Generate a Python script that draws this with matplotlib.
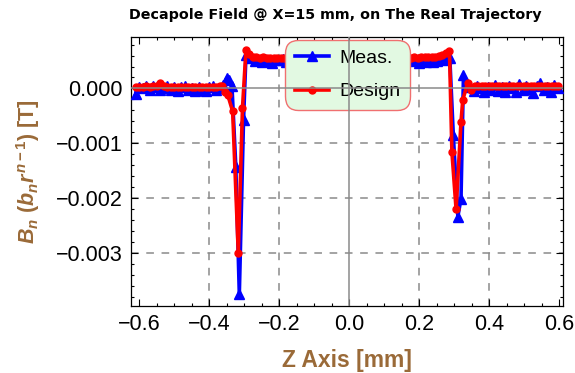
import matplotlib
matplotlib.use("Agg")
import matplotlib.pyplot as plt
from matplotlib.ticker import MultipleLocator, FuncFormatter, FixedLocator

plt.rcParams["font.family"] = ["Liberation Sans", "DejaVu Sans"]
plt.rcParams["mathtext.fontset"] = "custom"
plt.rcParams["mathtext.rm"] = "Liberation Sans:bold"
plt.rcParams["mathtext.it"] = "Liberation Sans:bold:italic"
plt.rcParams["mathtext.bf"] = "Liberation Sans:bold"

# Measured decapole component along the trajectory (z in mm, B in T)
z_meas = [
    -0.61, -0.60, -0.59, -0.58, -0.57, -0.56, -0.55, -0.54, -0.53, -0.52,
    -0.51, -0.50, -0.49, -0.48, -0.47, -0.46, -0.45, -0.44, -0.43, -0.42,
    -0.41, -0.40, -0.39, -0.38, -0.37, -0.36, -0.35, -0.343, -0.335, -0.324,
    -0.314, -0.302, -0.295,
    -0.28, -0.27, -0.26, -0.25, -0.24, -0.23, -0.22, -0.21, -0.20, -0.19,
    -0.18, -0.17, -0.16, -0.15, -0.14, -0.13, -0.12, -0.11, -0.10, -0.09,
    -0.08, -0.07, -0.06, -0.05, -0.04, -0.03, -0.02, -0.01, 0.00, 0.01,
    0.02, 0.03, 0.04, 0.05, 0.06, 0.07, 0.08, 0.09, 0.10, 0.11,
    0.12, 0.13, 0.14, 0.15, 0.16, 0.17, 0.18, 0.19, 0.20, 0.21,
    0.22, 0.23, 0.24, 0.25, 0.26, 0.27, 0.28, 0.287,
    0.297, 0.310, 0.319, 0.326, 0.335,
    0.345, 0.355, 0.365, 0.375, 0.385, 0.395, 0.405, 0.415, 0.425, 0.435,
    0.445, 0.455, 0.465, 0.475, 0.485, 0.495, 0.505, 0.515, 0.525, 0.535,
    0.545, 0.555, 0.565, 0.575, 0.585, 0.595,
]
b_meas = [
    -0.00011, 0.00003, 0.00001, 0.00004, -0.00002, 0.00005, 0.00002, -0.00003, 0.00001, 0.00004,
    -0.00002, 0.00003, -0.00004, 0.00002, 0.00005, -0.00003, 0.00001, -0.00005, 0.00003, -0.00002,
    -0.00004, 0.00002, 0.00004, -0.00003, 0.00001, 0.00006, 0.00019, 0.00015, 0.00004, -0.00143,
    -0.00376, -0.00058, 0.00061,
    0.00055, 0.00050, 0.00052, 0.00049, 0.00053, 0.00050, 0.00047, 0.00052, 0.00051, 0.00054,
    0.00049, 0.00046, 0.00051, 0.00053, 0.00049, 0.00052, 0.00050, 0.00047, 0.00051, 0.00053,
    0.00050, 0.00048, 0.00052, 0.00050, 0.00053, 0.00049, 0.00051, 0.00048, 0.00052, 0.00050,
    0.00053, 0.00049, 0.00051, 0.00047, 0.00052, 0.00050, 0.00054, 0.00049, 0.00051, 0.00048,
    0.00052, 0.00050, 0.00047, 0.00053, 0.00049, 0.00051, 0.00050, 0.00052, 0.00046, 0.00051,
    0.00049, 0.00052, 0.00048, 0.00050, 0.00053, 0.00052, 0.00055, 0.00056,
    -0.00085, -0.00234, -0.00201, 0.00024, 0.00006,
    0.00002, -0.00004, 0.00005, 0.00001, -0.00006, 0.00003, -0.00002, 0.00006, -0.00005, 0.00002,
    -0.00007, 0.00004, 0.00001, -0.00006, 0.00008, -0.00003, 0.00005, -0.00001, -0.00008, 0.00004,
    0.00010, -0.00003, 0.00002, -0.00007, 0.00006, 0.00001,
]

# Design (model) values on the same trajectory
z_design = [
    -0.61, -0.60, -0.59, -0.58, -0.57, -0.56, -0.55, -0.54, -0.53, -0.52,
    -0.51, -0.50, -0.49, -0.48, -0.47, -0.46, -0.45, -0.44, -0.43, -0.42,
    -0.41, -0.40, -0.39, -0.38, -0.37, -0.363, -0.355, -0.347, -0.333, -0.317,
    -0.305, -0.295,
    -0.285, -0.275, -0.265, -0.255, -0.245, -0.235, -0.225, -0.215, -0.205, -0.195,
    -0.185, -0.175, -0.165, -0.155, -0.145, -0.135, -0.125, -0.115, -0.105, -0.095,
    -0.085, -0.075, -0.065, -0.055, -0.045, -0.035, -0.025, -0.015, -0.005, 0.005,
    0.015, 0.025, 0.035, 0.045, 0.055, 0.065, 0.075, 0.085, 0.095, 0.105,
    0.115, 0.125, 0.135, 0.145, 0.155, 0.165, 0.175, 0.185, 0.195, 0.205,
    0.215, 0.225, 0.235, 0.245, 0.255, 0.265, 0.275, 0.286,
    0.293, 0.305, 0.319, 0.324, 0.338,
    0.348, 0.358, 0.368, 0.378, 0.388, 0.398, 0.408, 0.418, 0.428, 0.438,
    0.448, 0.458, 0.468, 0.478, 0.488, 0.498, 0.508, 0.518, 0.528, 0.538,
    0.548, 0.558, 0.568, 0.578, 0.588, 0.595,
]
b_design = [
    0.00002, 0.00003, 0.00002, 0.00004, 0.00003, 0.00004, 0.00005, 0.00010, 0.00004, 0.00003,
    0.00002, 0.00003, 0.00002, 0.00003, 0.00002, 0.00003, 0.00002, 0.00002, 0.00003, 0.00002,
    0.00003, 0.00002, 0.00003, 0.00003, 0.00004, 0.00005, -0.00006, -0.00012, -0.00042, -0.00300,
    -0.00036, 0.00070,
    0.00062, 0.00058, 0.00057, 0.00056, 0.00057, 0.00056, 0.00055, 0.00056, 0.00056, 0.00055,
    0.00056, 0.00055, 0.00056, 0.00055, 0.00056, 0.00055, 0.00055, 0.00056, 0.00055, 0.00055,
    0.00056, 0.00055, 0.00055, 0.00056, 0.00055, 0.00055, 0.00056, 0.00055, 0.00055, 0.00055,
    0.00056, 0.00055, 0.00055, 0.00056, 0.00055, 0.00055, 0.00056, 0.00055, 0.00056, 0.00055,
    0.00056, 0.00055, 0.00056, 0.00056, 0.00055, 0.00056, 0.00056, 0.00057, 0.00056, 0.00057,
    0.00057, 0.00058, 0.00057, 0.00058, 0.00059, 0.00061, 0.00064, 0.00069,
    -0.00116, -0.00221, -0.00061, -0.00021, 0.00010,
    -0.00002, 0.00004, 0.00005, 0.00004, 0.00005, 0.00004, 0.00005, 0.00004, 0.00005, 0.00004,
    0.00005, 0.00004, 0.00005, 0.00004, 0.00005, 0.00004, 0.00005, 0.00004, 0.00005, 0.00004,
    0.00005, 0.00004, 0.00005, 0.00004, 0.00005, 0.00004,
]

x_ticks = [-0.6, -0.4, -0.2, 0.0, 0.2, 0.4, 0.6]
y_ticks = [-0.003, -0.002, -0.001, 0.0]
x_grid = [-0.4, -0.2, 0.2, 0.4]
y_grid = [-0.003, -0.002, -0.001]

label_brown = "#9a6a38"

fig = plt.figure(figsize=(5.75, 3.73), dpi=100)
ax = fig.add_axes([0.228, 0.180, 0.751, 0.721])

ax.plot(z_meas, b_meas, color="blue", lw=2.6, marker="^", ms=6.5,
        label="Meas.", zorder=3)
ax.plot(z_design, b_design, color="red", lw=2.6, marker="o", ms=5,
        label="Design", zorder=4)

ax.set_xlim(-0.623, 0.610)
ax.set_ylim(-0.00397, 0.00094)

# dashed grid plus solid zero axes
for xv in x_grid:
    ax.axvline(xv, color="#8a8a8a", lw=1.1, ls=(0, (5, 5)), zorder=1)
for yv in y_grid:
    ax.axhline(yv, color="#8a8a8a", lw=1.1, ls=(0, (5, 5)), zorder=1)
ax.axvline(0.0, color="#8a8a8a", lw=1.1, zorder=6)
ax.axhline(0.0, color="#8a8a8a", lw=1.1, zorder=6)

ax.xaxis.set_major_locator(FixedLocator(x_ticks))
ax.xaxis.set_minor_locator(MultipleLocator(0.05))
ax.yaxis.set_major_locator(FixedLocator(y_ticks))
ax.yaxis.set_minor_locator(MultipleLocator(0.0002))


def fmt_x(v, pos):
    s = f"{v:.1f}"
    if s == "-0.0":
        s = "0.0"
    return s.replace("-", "\u2212")


def fmt_y(v, pos):
    s = f"{v:.3f}"
    if s == "-0.000":
        s = "0.000"
    return s.replace("-", "\u2212")


ax.xaxis.set_major_formatter(FuncFormatter(fmt_x))
ax.yaxis.set_major_formatter(FuncFormatter(fmt_y))
ax.tick_params(which="both", direction="in", top=True, right=True, width=0.8)
ax.tick_params(which="major", length=5, labelsize=15.5, pad=6)
ax.tick_params(which="minor", length=2.5)
for sp in ax.spines.values():
    sp.set_linewidth(0.9)

fig.text(335 / 575, 1 - 15 / 373,
         "Decapole Field @ X=15 mm, on The Real Trajectory",
         fontsize=10.3, fontweight="bold", family="DejaVu Sans",
         ha="center", va="center")
ax.set_xlabel("Z Axis [mm]", fontsize=16.5, fontweight="bold",
              color=label_brown, labelpad=10)
ax.set_ylabel(r"$B_n\ (b_n r^{n-1})$ [T]", fontsize=15.5,
              fontweight="bold", color=label_brown, labelpad=10)

leg = ax.legend(loc="upper left", bbox_to_anchor=(0.356, 0.989),
                borderaxespad=0.0, fontsize=14, frameon=True,
                facecolor="#e2f9e2", edgecolor="#f07070",
                framealpha=1.0, handlelength=1.75, handletextpad=0.55,
                borderpad=0.5, labelspacing=0.8, markerscale=1.0)
leg.set_zorder(5)
frame = leg.get_frame()
frame.set_linewidth(1.0)
frame.set_boxstyle("round,pad=0,rounding_size=0.7")

fig.savefig("out.png", dpi=100)
